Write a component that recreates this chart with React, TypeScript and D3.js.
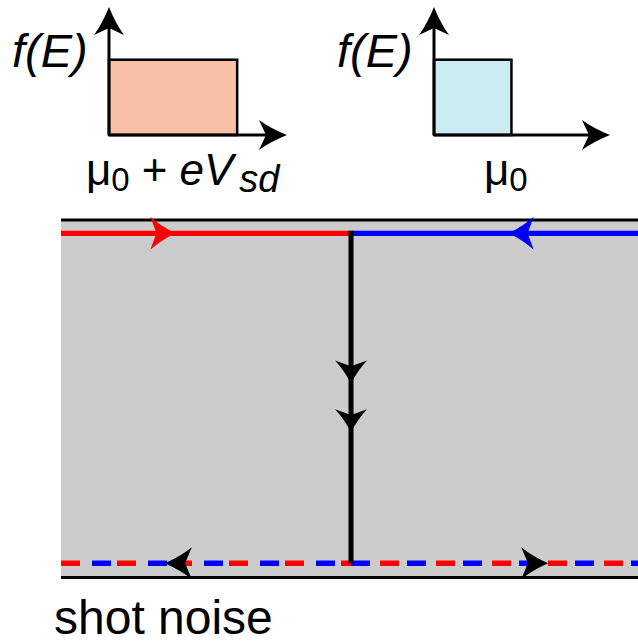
import React from "react";
import * as d3 from "d3";

// Reservoir distributions shown in the two insets (energy in arbitrary units)
const insetNames = ["source", "drain"];
const fermiCutoff = [0.72, 0.44]; // f(E) = 1 below this energy
const axisMaxE = [1.0, 1.0];
const axisMaxF = 1.7;

// Edge-channel diagram, positions along the sample (0 = left contact, 1 = right edge)
const junctionPos = 0.5;
const topArrowPos = [0.197, 0.772]; // incoming red (→) and blue (←) channels
const topArrowDir = [1, -1];
const tunnelArrowPos = [0.455, 0.603]; // along the vertical tunnelling path (0 = top, 1 = bottom)
const bottomArrowPos = [0.179, 0.84];
const bottomArrowDir = [-1, 1];

const W = 638;
const H = 643;
const FONT = "'Liberation Sans', Arial, sans-serif";

function arrowHead(L: number, hw: number): string {
  const p = d3.path();
  p.moveTo(0, 0);
  p.quadraticCurveTo(-L * 0.6, -hw * 0.45, -L, -hw);
  p.lineTo(-L * 0.75, 0);
  p.lineTo(-L, hw);
  p.quadraticCurveTo(-L * 0.6, hw * 0.45, 0, 0);
  p.closePath();
  return p.toString();
}

function Inset({ i }: { i: number }) {
  const x0 = i === 0 ? 109 : 434;
  const x1 = i === 0 ? 287 : 610;
  const x = d3.scaleLinear().domain([0, axisMaxE[i]]).range([x0, x1]);
  const y = d3.scaleLinear().domain([0, axisMaxF]).range([135, 7]);
  const fill = i === 0 ? "#f8c0a6" : "#cdebf2";
  const head = arrowHead(28, 15);
  return (
    <g>
      <rect
        x={x(0)}
        y={y(1)}
        width={x(fermiCutoff[i]) - x(0)}
        height={y(0) - y(1)}
        fill={fill}
        stroke="#000"
        strokeWidth={2.5}
      />
      <line x1={x(0)} y1={y(0)} x2={x(0)} y2={y(axisMaxF) + 8} stroke="#000" strokeWidth={3} />
      <line x1={x(0)} y1={y(0)} x2={x(axisMaxE[i]) - 8} y2={y(0)} stroke="#000" strokeWidth={3} />
      <path d={head} transform={`translate(${x(0)},${y(axisMaxF)}) rotate(-90)`} fill="#000" />
      <path d={head} transform={`translate(${x(axisMaxE[i])},${y(0)})`} fill="#000" />
      <text x={x(0) - 97} y={67} fontFamily={FONT} fontSize={47} fontStyle="italic">
        f(E)
      </text>
    </g>
  );
}

export default function App() {
  const xs = d3.scaleLinear().domain([0, 1]).range([61, 641]);
  const yTop = 220;
  const yBot = 577.5;
  const yCh = 233.3;
  const yChB = 563.3;
  const yt = d3.scaleLinear().domain([0, 1]).range([yCh, yChB]);
  const xJ = xs(junctionPos);
  const head = arrowHead(25, 16.5);
  const vhead = arrowHead(23, 16);
  const bhead = arrowHead(27, 16);
  const dash = "19 37";

  return (
    <svg
      width={W}
      height={H}
      viewBox={`0 0 ${W} ${H}`}
      style={{ position: "absolute", left: 0, top: 0, background: "#fff" }}
    >
      {insetNames.map((n, i) => (
        <Inset key={n} i={i} />
      ))}

      {/* energy labels under the insets */}
      <text x={86} y={185} fontFamily={FONT} fontSize={44}>
        <tspan>μ</tspan>
        <tspan fontSize={33} dy={6}>0</tspan>
        <tspan dy={-6} dx={12}>+</tspan>
        <tspan dx={12} fontStyle="italic">e</tspan>
        <tspan fontStyle="italic">V</tspan>
        <tspan fontStyle="italic" fontSize={38} dy={7} dx={6}>sd</tspan>
      </text>
      <text x={484} y={185} fontFamily={FONT} fontSize={44}>
        <tspan>μ</tspan>
        <tspan fontSize={33} dy={6}>0</tspan>
      </text>

      {/* sample */}
      <rect x={xs(0)} y={yTop} width={xs(1) - xs(0)} height={yBot - yTop} fill="#cccccc" />
      <line x1={xs(0)} x2={xs(1)} y1={yTop} y2={yTop} stroke="#000" strokeWidth={3} />
      <line x1={xs(0)} x2={xs(1)} y1={yBot} y2={yBot} stroke="#000" strokeWidth={3} />

      {/* incoming edge channels */}
      <line x1={xs(0)} x2={xJ} y1={yCh} y2={yCh} stroke="#ff0000" strokeWidth={5.3} />
      <line x1={xJ} x2={xs(1)} y1={yCh} y2={yCh} stroke="#0000ff" strokeWidth={5.3} />

      {/* outgoing mixed channels */}
      <line x1={xs(0)} x2={xJ} y1={yChB} y2={yChB} stroke="#ff0000" strokeWidth={5.5} strokeDasharray={dash} />
      <line x1={xs(0)} x2={xJ} y1={yChB} y2={yChB} stroke="#0000ff" strokeWidth={5.5} strokeDasharray={dash} strokeDashoffset={25} />
      <line x1={xJ} x2={xs(1)} y1={yChB} y2={yChB} stroke="#0000ff" strokeWidth={5.5} strokeDasharray={dash} />
      <line x1={xJ} x2={xs(1)} y1={yChB} y2={yChB} stroke="#ff0000" strokeWidth={5.5} strokeDasharray={dash} strokeDashoffset={27} />

      {/* tunnelling path */}
      <line x1={xJ} x2={xJ} y1={yCh - 2.6} y2={yChB} stroke="#000" strokeWidth={5} />

      {topArrowPos.map((p, i) => (
        <path
          key={`t${i}`}
          d={head}
          transform={`translate(${xs(p)},${yCh}) rotate(${topArrowDir[i] > 0 ? 0 : 180})`}
          fill={i === 0 ? "#ff0000" : "#0000ff"}
        />
      ))}
      {tunnelArrowPos.map((p, i) => (
        <path key={`v${i}`} d={vhead} transform={`translate(${xJ},${yt(p)}) rotate(90)`} fill="#000" />
      ))}
      {bottomArrowPos.map((p, i) => (
        <path
          key={`b${i}`}
          d={bhead}
          transform={`translate(${xs(p)},${yChB}) rotate(${bottomArrowDir[i] > 0 ? 0 : 180})`}
          fill="#000"
        />
      ))}

      <text x={54} y={634} fontFamily={FONT} fontSize={48}>
        shot noise
      </text>
    </svg>
  );
}
